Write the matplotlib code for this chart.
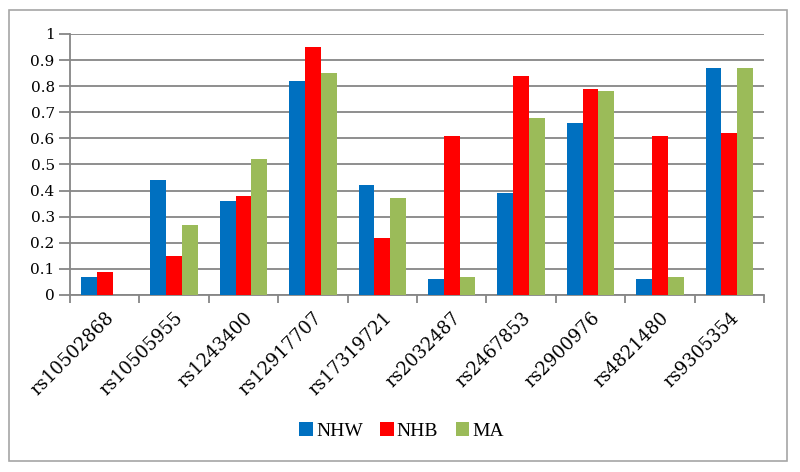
import numpy as np
import matplotlib
matplotlib.use("Agg")
import matplotlib.pyplot as plt
from matplotlib.patches import Rectangle

# SNP ids and frequencies per population
snps = ["rs10502868", "rs10505955", "rs1243400", "rs12917707", "rs17319721",
        "rs2032487", "rs2467853", "rs2900976", "rs4821480", "rs9305354"]
nhw = [0.07, 0.44, 0.36, 0.82, 0.42, 0.06, 0.39, 0.66, 0.06, 0.87]
nhb = [0.09, 0.15, 0.38, 0.95, 0.22, 0.61, 0.84, 0.79, 0.61, 0.62]
ma = [0.00, 0.27, 0.52, 0.85, 0.37, 0.07, 0.68, 0.78, 0.07, 0.87]
yticks = [0, 0.1, 0.2, 0.3, 0.4, 0.5, 0.6, 0.7, 0.8, 0.9, 1]

plt.rcParams['font.family'] = ['DejaVu Serif']

fig = plt.figure(figsize=(8, 4.72), dpi=100)
ax = fig.add_axes([0.0875, 0.375, 0.8675, 0.553])

# outer chart frame
fig.patches.append(Rectangle((9 / 800, 1 - 461 / 472), 778 / 800, 451 / 472,
                             transform=fig.transFigure, fill=False,
                             edgecolor="#a6a6a6", linewidth=1.2))

x = np.arange(len(snps))
w = 0.227
for vals, off, color, label in [
    (nhw, -w, "#0070C0", "NHW"),
    (nhb, 0, "#FF0000", "NHB"),
    (ma, w, "#9BBB59", "MA"),
]:
    ax.bar(x + off, vals, width=w, color=color, label=label, zorder=3)

ax.set_xlim(-0.5, len(snps) - 0.5)
ax.set_ylim(0, 1)
ax.set_yticks(yticks)
ax.set_yticklabels(["0", "0.1", "0.2", "0.3", "0.4", "0.5", "0.6", "0.7", "0.8", "0.9", "1"],
                   fontsize=11)
ax.yaxis.grid(True, color="#868686", linewidth=1.3, zorder=0)
ax.tick_params(axis="y", length=8, width=1.3, color="#868686", pad=3)

ax.set_xticks(x)
ax.set_xticklabels(snps, rotation=45, ha="right", rotation_mode="anchor", fontsize=13)
ax.set_xticks(np.arange(-0.5, len(snps)), minor=True)
ax.tick_params(axis="x", which="major", length=0, pad=10)
ax.tick_params(axis="x", which="minor", length=6, width=1.3, color="#868686")

for side in ["top", "right"]:
    ax.spines[side].set_visible(False)
for side in ["left", "bottom"]:
    ax.spines[side].set_color("#868686")
    ax.spines[side].set_linewidth(1.3)

fig.legend(loc="center", bbox_to_anchor=(0.502, 1 - 431 / 472), ncol=3, frameon=False,
           prop={"family": "Liberation Serif", "size": 14},
           handlelength=0.7, handleheight=0.7, handletextpad=0.15,
           columnspacing=0.9)

fig.savefig("out.png", dpi=100)
